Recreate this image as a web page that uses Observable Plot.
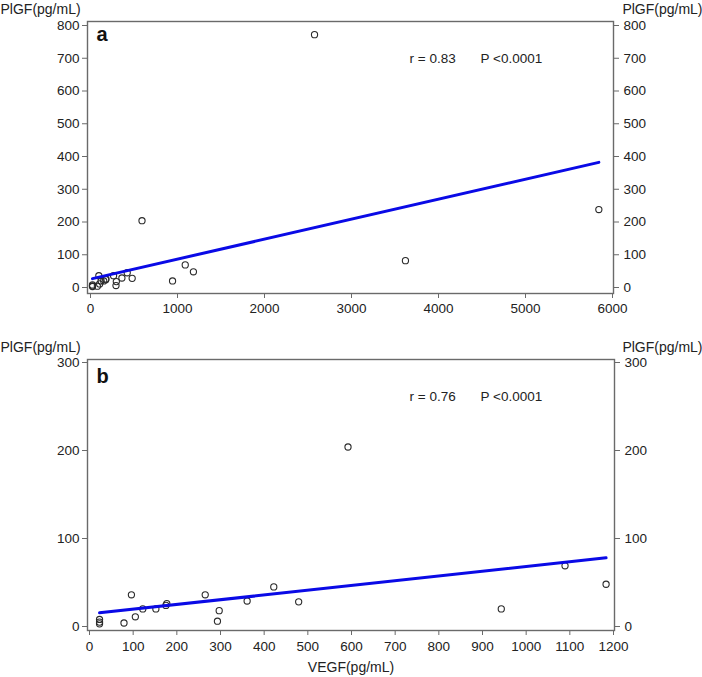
<!DOCTYPE html>
<html>
<head>
<meta charset="utf-8">
<script src="https://cdn.jsdelivr.net/npm/d3@7"></script>
<script src="https://cdn.jsdelivr.net/npm/@observablehq/plot@0.6"></script>
<style>
  html, body { margin: 0; padding: 0; background: #fff; }
  #chart { width: 702px; }
  #chart svg { display: block; }
</style>
</head>
<body>
<div id="chart"></div>
<script>
// Observations (VEGF vs PlGF, pg/mL)
const vegf = [23, 23, 23, 79, 96, 105, 122, 152, 175, 177, 265, 293, 297, 361, 422, 479, 592, 943, 1089, 1183, 2575, 3620, 5843];
const plgf = [3, 5, 8, 4, 36, 11, 20, 20, 24, 26, 36, 6, 18, 29, 45, 28, 204, 20, 69, 48, 772, 82, 238];

// Regression line end points
const fitAX = [23, 5843];
const fitAY = [27, 382];
const fitBX = [23, 1183];
const fitBY = [15.5, 78];

// Tick values
const ticksAX = [0, 1000, 2000, 3000, 4000, 5000, 6000];
const ticksAY = [0, 100, 200, 300, 400, 500, 600, 700, 800];
const ticksBX = [0, 100, 200, 300, 400, 500, 600, 700, 800, 900, 1000, 1100, 1200];
const ticksBY = [0, 100, 200, 300];

// Texts
const yLabel = "PlGF(pg/mL)";
const xLabel = "VEGF(pg/mL)";
const panelA = "a", panelB = "b";
const statA = ["r = 0.83", "P <0.0001"];
const statB = ["r = 0.76", "P <0.0001"];

const pts = vegf.map((v, i) => ({vegf: v, plgf: plgf[i]}));
const fitA = fitAX.map((v, i) => ({vegf: v, plgf: fitAY[i]}));
const fitB = fitBX.map((v, i) => ({vegf: v, plgf: fitBY[i]}));

const font = "'Liberation Sans', Arial, Helvetica, sans-serif";
const axisGrey = "#6a6a6a";
const blue = "#0a0ae6";

function panel(cfg) {
  return Plot.plot({
    width: 702,
    height: cfg.height,
    marginLeft: 87,
    marginRight: cfg.marginRight,
    marginTop: cfg.marginTop,
    marginBottom: cfg.marginBottom,
    insetTop: cfg.insetTop,
    insetBottom: cfg.insetBottom,
    insetLeft: cfg.insetLeft,
    insetRight: 1,
    x: {domain: cfg.xDomain},
    y: {domain: cfg.yDomain},
    style: {fontFamily: font, fontSize: "13.5px", color: "#222", background: "#fff"},
    marks: [
      Plot.axisX({ticks: cfg.ticksX, tickFormat: "d", tickSize: 5, tickPadding: cfg.xPad, stroke: axisGrey, label: null}),
      Plot.axisY({anchor: "left", ticks: cfg.ticksY, tickFormat: "d", tickSize: 5, tickPadding: 3, stroke: axisGrey, label: null}),
      Plot.axisY({anchor: "right", ticks: cfg.ticksY, tickFormat: "d", tickSize: 5, tickPadding: 5, stroke: axisGrey, label: null}),
      Plot.frame({stroke: axisGrey, strokeWidth: 1.4}),
      Plot.dot(pts, {x: "vegf", y: "plgf", r: 3.1, stroke: "#2a2a2a", strokeWidth: 1.1, fill: "none", clip: true}),
      Plot.line(cfg.fit, {x: "vegf", y: "plgf", stroke: blue, strokeWidth: 3}),
      Plot.text([yLabel], {text: d => d, frameAnchor: "top-left", dx: -87, dy: cfg.labelDy, textAnchor: "start", lineAnchor: "middle", fontSize: 14}),
      Plot.text([yLabel], {text: d => d, frameAnchor: "top-right", dx: cfg.marginRight, dy: cfg.labelDy, textAnchor: "end", lineAnchor: "middle", fontSize: 14}),
      Plot.text([cfg.letter], {text: d => d, frameAnchor: "top-left", dx: 9, dy: cfg.letterDy, textAnchor: "start", lineAnchor: "bottom", fontSize: 20, fontWeight: "bold", fill: "#111"}),
      Plot.text([cfg.stat[0]], {text: d => d, frameAnchor: "top-left", dx: 322, dy: 41, textAnchor: "start", lineAnchor: "bottom", fontSize: 13.5}),
      Plot.text([cfg.stat[1]], {text: d => d, frameAnchor: "top-left", dx: 393, dy: 41, textAnchor: "start", lineAnchor: "bottom", fontSize: 13.5}),
      ...(cfg.xLabel ? [Plot.text([cfg.xLabel], {text: d => d, frameAnchor: "bottom", dy: 37, textAnchor: "middle", lineAnchor: "middle", fontSize: 14})] : [])
    ]
  });
}

const chart = document.getElementById("chart");
chart.append(panel({
  height: 320, marginTop: 21, marginBottom: 27, marginRight: 89,
  insetTop: 4, insetBottom: 6, insetLeft: 3,
  xDomain: [0, 6000], yDomain: [0, 800],
  ticksX: ticksAX, ticksY: ticksAY, xPad: 5,
  fit: fitA, letter: panelA, letterDy: 19, labelDy: -12, stat: statA
}));
chart.append(panel({
  height: 357, marginTop: 39, marginBottom: 47, marginRight: 88,
  insetTop: 3, insetBottom: 4, insetLeft: 2,
  xDomain: [0, 1200], yDomain: [0, 300],
  ticksX: ticksBX, ticksY: ticksBY, xPad: 6,
  fit: fitB, letter: panelB, letterDy: 23, labelDy: -12, stat: statB,
  xLabel: xLabel
}));
</script>
</body>
</html>
